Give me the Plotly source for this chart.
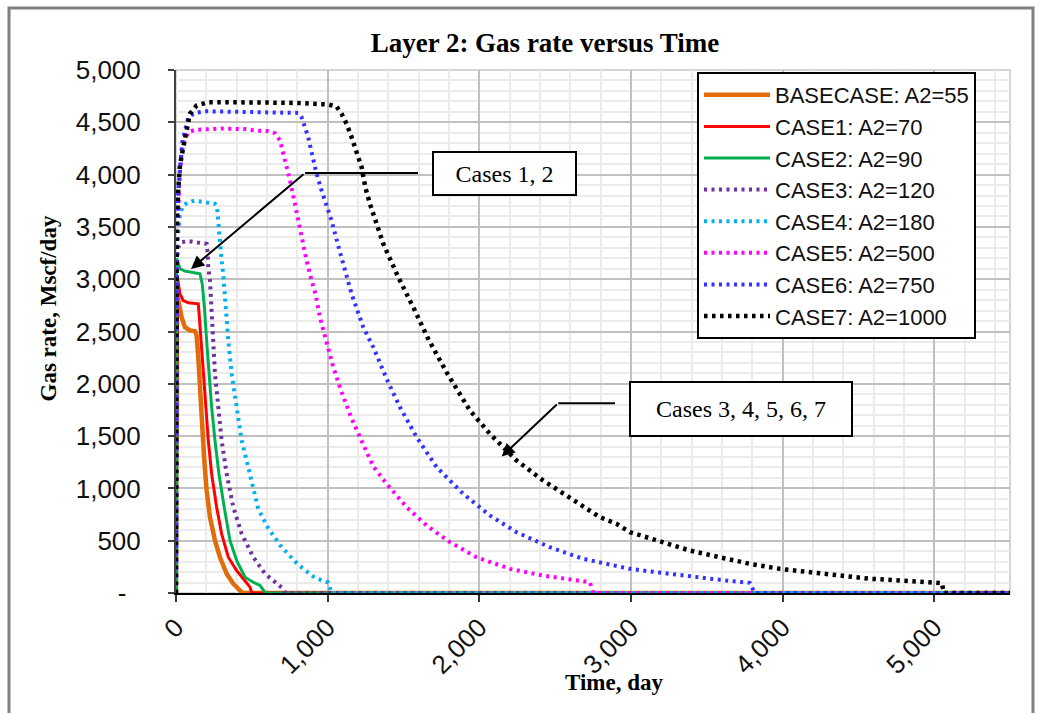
import plotly.graph_objects as go

# ---- simulated gas rate (Mscf/day) versus time (day) for layer 2 ----
t_base = [0, 5, 15, 37, 59, 92, 125, 136, 147, 158, 169, 185, 202, 224, 257, 290, 334, 378, 422, 440, 5500]
q_base = [0, 2850, 2800, 2637, 2541, 2510, 2503, 2462, 2254, 1936, 1618, 1298, 980, 725, 502, 342, 184, 88, 24, 0, 0]

t_case1 = [0, 10, 26, 48, 81, 147, 154, 165, 180, 196, 213, 235, 268, 301, 345, 400, 455, 488, 500, 5500]
q_case1 = [0, 3010, 2860, 2796, 2774, 2765, 2637, 2414, 2096, 1776, 1458, 1140, 820, 566, 342, 215, 120, 56, 0, 0]

t_case2 = [0, 4, 26, 59, 103, 158, 173, 187, 202, 217, 235, 257, 283, 318, 356, 400, 455, 510, 554, 590, 5500]
q_case2 = [0, 3200, 3100, 3077, 3067, 3052, 2956, 2732, 2414, 2096, 1776, 1458, 1140, 820, 502, 311, 151, 103, 72, 0, 0]

t_case3 = [0, 5, 15, 37, 81, 147, 202, 209, 213, 224, 235, 246, 257, 279, 301, 334, 378, 433, 510, 587, 674, 708, 720, 5500]
q_case3 = [0, 3200, 3306, 3354, 3364, 3354, 3338, 3243, 3115, 2988, 2700, 2350, 2096, 1776, 1458, 1140, 820, 566, 342, 184, 88, 40, 0, 0]

t_case4 = [0, 5, 26, 48, 81, 125, 191, 257, 270, 279, 290, 301, 312, 323, 345, 367, 400, 433, 477, 543, 608, 697, 806, 916, 1004, 1026, 5500]
q_case4 = [0, 3300, 3625, 3705, 3736, 3752, 3736, 3721, 3700, 3530, 3370, 3179, 3040, 2790, 2414, 2096, 1776, 1458, 1200, 800, 620, 438, 270, 145, 100, 0, 0]

t_case5 = [0, 5, 20, 37, 59, 81, 125, 300, 455, 521, 608, 653, 686, 707, 730, 752, 773, 795, 817, 839, 861, 894, 920,
           949, 993, 1037, 1092, 1158, 1235, 1301, 1389, 1521, 1653, 1806, 1982, 2202, 2421, 2641, 2729, 2752, 5500]
q_case5 = [0, 3000, 3900, 4214, 4342, 4405, 4428, 4440, 4435, 4422, 4415, 4396, 4326, 4214, 4071, 3944, 3800, 3641, 3497, 3338, 3179, 2988, 2860,
           2637, 2382, 2159, 1920, 1670, 1420, 1210, 1044, 820, 645, 486, 342, 231, 167, 120, 103, 0, 0]

t_case6 = [0, 5, 15, 40, 81, 125, 200, 510, 806, 828, 850, 872, 894, 927, 960, 993, 1026, 1081, 1158, 1235, 1301, 1389, 1477,
           1587, 1719, 1894, 2070, 2246, 2465, 2685, 2795, 2993, 3190, 3388, 3586, 3784, 3817, 5500]
q_case6 = [0, 3300, 3848, 4300, 4549, 4590, 4605, 4600, 4590, 4549, 4453, 4358, 4214, 4008, 3848, 3700, 3560, 3260, 2860, 2541, 2350, 2048, 1776,
           1490, 1203, 948, 741, 581, 438, 327, 295, 231, 195, 158, 126, 97, 0, 0]

t_case7 = [0, 5, 15, 26, 48, 70, 92, 136, 213, 510, 800, 1004, 1059, 1092, 1125, 1158, 1191, 1224, 1250, 1279, 1367, 1466, 1575,
           1663, 1784, 1938, 2070, 2246, 2421, 2641, 2795, 2905, 2993, 3190, 3388, 3586, 3784, 3982, 4179, 4377, 4575, 4773, 4970,
           5050, 5065, 5500]
q_case7 = [0, 3500, 3850, 4087, 4262, 4453, 4581, 4661, 4692, 4690, 4685, 4670, 4651, 4581, 4486, 4358, 4214, 4071, 3870, 3721, 3338, 3019, 2701,
           2430, 2111, 1745, 1522, 1267, 1076, 868, 725, 661, 581, 495, 406, 342, 279, 231, 199, 167, 136, 120, 98,
           94, 0, 0]

series_names = ["BASECASE: A2=55", "CASE1: A2=70", "CASE2: A2=90", "CASE3: A2=120",
                "CASE4: A2=180", "CASE5: A2=500", "CASE6: A2=750", "CASE7: A2=1000"]
series_t = [t_base, t_case1, t_case2, t_case3, t_case4, t_case5, t_case6, t_case7]
series_q = [q_base, q_case1, q_case2, q_case3, q_case4, q_case5, q_case6, q_case7]

x_ticks = [0, 1000, 2000, 3000, 4000, 5000]
x_ticktext = ["0", "1,000", "2,000", "3,000", "4,000", "5,000"]
y_ticks = [0, 500, 1000, 1500, 2000, 2500, 3000, 3500, 4000, 4500, 5000]
y_ticktext = ["-\u2007", "500", "1,000", "1,500", "2,000", "2,500", "3,000", "3,500", "4,000", "4,500", "5,000"]

# line styles: first three solid, the rest dotted
DOT = "3px,4.5px"
styles = [
    dict(color="#E26B0A", width=4.5, dash="solid"),
    dict(color="#FF0000", width=3, dash="solid"),
    dict(color="#00B050", width=3, dash="solid"),
    dict(color="#7030A0", width=4, dash=DOT),
    dict(color="#00B0F0", width=4, dash=DOT),
    dict(color="#FF00FF", width=4, dash=DOT),
    dict(color="#3333FF", width=4, dash=DOT),
    dict(color="#000000", width=4.5, dash="3.5px,4.5px"),
]

SANS = "Arial, Liberation Sans, sans-serif"
SERIF = "Times New Roman, Liberation Serif, serif"

fig = go.Figure()
for name, t, q, st in zip(series_names, series_t, series_q, styles):
    fig.add_trace(go.Scatter(x=t, y=q, mode="lines", name=name, line=st))

# callout boxes with elbow arrows
fig.add_annotation(x=2166, y=4010, xref="x", yref="y", text="Cases 1, 2", showarrow=False,
                   font=dict(family=SERIF, size=24, color="#000"), bgcolor="white",
                   bordercolor="black", borderwidth=2, borderpad=0, width=141, height=41)
fig.add_annotation(x=3726, y=1761, xref="x", yref="y", text="Cases 3, 4, 5, 6, 7", showarrow=False,
                   font=dict(family=SERIF, size=24, color="#000"), bgcolor="white",
                   bordercolor="black", borderwidth=2, borderpad=0, width=220, height=52)

fig.add_shape(type="line", xref="x", yref="y", x0=1596, y0=4016, x1=851, y1=4016,
              line=dict(color="black", width=2))
fig.add_annotation(x=99, y=3098, xref="x", yref="y", ax=851, ay=4016, axref="x", ayref="y",
                   text="", showarrow=True, arrowhead=2, arrowsize=1.3, arrowwidth=2,
                   arrowcolor="black", standoff=0)
fig.add_shape(type="line", xref="x", yref="y", x0=2895, y0=1815, x1=2521, y1=1815,
              line=dict(color="black", width=2))
fig.add_annotation(x=2148, y=1304, xref="x", yref="y", ax=2521, ay=1815, axref="x", ayref="y",
                   text="", showarrow=True, arrowhead=2, arrowsize=1.3, arrowwidth=2,
                   arrowcolor="black", standoff=0)

# axis titles
fig.add_annotation(x=(614 - 176) / 834, y=(593 - 697) / 523, xref="paper", yref="paper",
                   text="Time, day", showarrow=False,
                   font=dict(family=SERIF, size=23, color="#000", weight="bold"))
fig.add_annotation(x=(33 - 176) / 834, y=(593 - 309) / 523, xref="paper", yref="paper",
                   text="Gas rate, Mscf/day", showarrow=False, textangle=-90,
                   font=dict(family=SERIF, size=23, color="#000", weight="bold"))

# plot-area frame (top/right) and the outer chart border
fig.add_shape(type="rect", xref="paper", yref="paper", x0=0, y0=0, x1=1, y1=1,
              line=dict(color="#C8C8C8", width=1.5), layer="below")
fig.add_shape(type="rect", xref="paper", yref="paper",
              x0=(9 - 176) / 834, x1=(1033 - 176) / 834,
              y0=(593 - 725) / 523, y1=(593 - 8) / 523,
              line=dict(color="#808080", width=3))

fig.update_layout(
    width=1040, height=713,
    margin=dict(l=176, r=30, t=70, b=120),
    paper_bgcolor="white", plot_bgcolor="white",
    title=dict(text="Layer 2: Gas rate versus Time", x=545 / 1040, xanchor="center",
               y=1 - 43 / 713, yanchor="middle",
               font=dict(family=SERIF, size=27, color="#000", weight="bold")),
    legend=dict(x=(697 - 176) / 834, y=(593 - 72) / 523, xanchor="left", yanchor="top",
                bgcolor="white", bordercolor="black", borderwidth=2, itemwidth=66,
                font=dict(family=SANS, size=22, color="#111")),
    showlegend=True,
)

fig.update_xaxes(
    range=[0, 5500], tickvals=x_ticks, ticktext=x_ticktext, tickangle=-45,
    tickfont=dict(family=SANS, size=26, color="#111"),
    showline=True, linecolor="black", linewidth=2, layer="below traces",
    ticks="outside", ticklen=7, tickcolor="#333", tickwidth=1.5,
    showgrid=True, gridcolor="#C0C0C0", gridwidth=1.5, zeroline=False,
    minor=dict(dtick=200, showgrid=True, gridcolor="#EBEBEB", gridwidth=1.5),
)
fig.update_yaxes(
    range=[0, 5000], tickvals=y_ticks, ticktext=y_ticktext,
    tickfont=dict(family=SANS, size=26, color="#111"),
    showline=True, linecolor="#404040", linewidth=2, layer="below traces",
    ticks="outside", ticklen=6, tickcolor="#404040", tickwidth=1.5, ticklabelstandoff=22,
    showgrid=True, gridcolor="#C0C0C0", gridwidth=1.5, zeroline=False,
    minor=dict(dtick=100, showgrid=True, gridcolor="#EBEBEB", gridwidth=1.5),
)

fig.write_html("out.html")
